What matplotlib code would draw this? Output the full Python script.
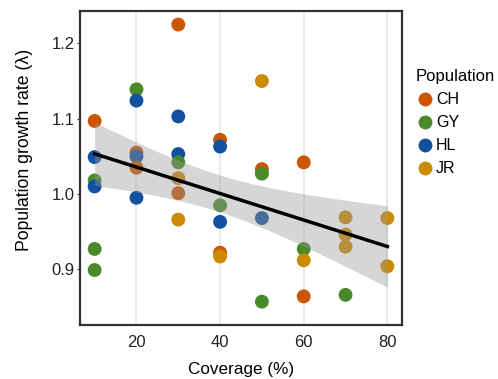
import numpy as np
import matplotlib
matplotlib.use("Agg")
import matplotlib.pyplot as plt
from matplotlib.lines import Line2D

plt.rcParams['font.family'] = ['Liberation Sans', 'DejaVu Sans']

populations = ['CH', 'GY', 'HL', 'JR']
colors = {'CH': '#CC5500', 'GY': '#4B8A2B', 'HL': '#1450A0', 'JR': '#CC8A00'}

# coverage (%), growth rate, population
coverage = [10, 10, 10, 10, 10, 10,
            20, 20, 20, 20, 20, 20,
            30, 30, 30, 30, 30, 30, 30,
            40, 40, 40, 40, 40, 40,
            50, 50, 50, 50, 50,
            60, 60, 60, 60,
            70, 70, 70, 70,
            80, 80]
growth = [1.097, 1.049, 1.018, 1.010, 0.927, 0.899,
          1.139, 1.124, 1.055, 1.050, 1.035, 0.995,
          1.225, 1.103, 1.053, 1.042, 1.021, 1.001, 0.966,
          1.072, 1.063, 0.985, 0.963, 0.922, 0.917,
          1.150, 1.033, 1.027, 0.968, 0.857,
          1.042, 0.927, 0.912, 0.864,
          0.969, 0.946, 0.930, 0.866,
          0.968, 0.904]
pop = ['CH', 'HL', 'GY', 'HL', 'GY', 'GY',
       'GY', 'HL', 'CH', 'HL', 'CH', 'HL',
       'CH', 'HL', 'HL', 'GY', 'JR', 'CH', 'JR',
       'CH', 'HL', 'GY', 'HL', 'CH', 'JR',
       'JR', 'CH', 'GY', 'HL', 'GY',
       'CH', 'GY', 'JR', 'CH',
       'JR', 'JR', 'JR', 'GY',
       'JR', 'JR']

x = np.array(coverage, dtype=float)
y = np.array(growth)

fig = plt.figure(figsize=(4.98, 3.79), dpi=100)
ax = fig.add_axes([80/498, 54/379, 322/498, 314/379])

for xi, yi, p in zip(x, y, pop):
    ax.scatter(xi, yi, s=100, color=colors[p], edgecolors='none', zorder=2)

# linear fit with 95% CI
n = len(x)
b, a = np.polyfit(x, y, 1)
xs = np.linspace(x.min(), x.max(), 100)
pred = a + b * xs
resid = y - (a + b * x)
s = np.sqrt(np.sum(resid**2) / (n - 2))
se = s * np.sqrt(1/n + (xs - x.mean())**2 / np.sum((x - x.mean())**2))
t = 2.024
ax.fill_between(xs, pred - t*se, pred + t*se, color='#999999', alpha=0.4,
                linewidth=0, zorder=3)
ax.plot(xs, pred, color='black', lw=2.5, zorder=4)

ax.set_xlim(6.5, 83.5)
ax.set_ylim(0.826, 1.243)
ax.set_xticks([20, 40, 60, 80])
ax.set_yticks([0.9, 1.0, 1.1, 1.2])
ax.set_yticklabels(['0.9', '1.0', '1.1', '1.2'])
ax.grid(axis='x', color='#E5E5E5', lw=1.2, zorder=0)
ax.set_axisbelow(True)
for sp in ax.spines.values():
    sp.set_color('#333333')
    sp.set_linewidth(1.6)
ax.tick_params(axis='x', length=0, labelsize=12, colors='#222222', pad=7)
ax.tick_params(axis='y', length=2, labelsize=12, colors='#222222', pad=2,
               color='#333333')
ax.set_xlabel('Coverage (%)', fontsize=12.3, labelpad=9)
ax.set_ylabel('Population growth rate (λ)', fontsize=12.7)
ax.yaxis.set_label_coords(-0.146, 0.557)

handles = [Line2D([], [], marker='o', ls='none', color=colors[p],
                  markersize=10, markeredgewidth=0, label=p) for p in populations]
leg = fig.legend(handles=handles, title='Population', loc='upper left',
                 bbox_to_anchor=(404/498, 1 - 58/379), frameon=False,
                 fontsize=11.5, title_fontsize=12, handletextpad=0.1,
                 handlelength=1.2, labelspacing=0.5, borderpad=0.2)
leg._legend_box.align = 'left'

fig.savefig('out.png', dpi=100)
